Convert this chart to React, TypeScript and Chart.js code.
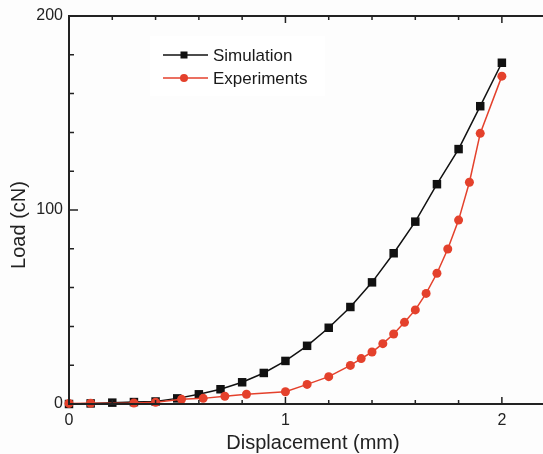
import React, { useEffect, useRef } from "react";
import { Chart, registerables } from "chart.js";

Chart.register(...registerables);

const simX = [0, 0.1, 0.2, 0.3, 0.4, 0.5, 0.6, 0.7, 0.8, 0.9, 1.0, 1.1, 1.2, 1.3, 1.4, 1.5, 1.6, 1.7, 1.8, 1.9, 2.0];
const simY = [0, 0.3, 0.7, 1.0, 1.3, 2.9, 5.0, 7.6, 11.2, 16.0, 22.2, 30.0, 39.3, 50.0, 62.7, 77.7, 94.0, 113.3, 131.4, 153.5, 175.9];

const expX = [0, 0.1, 0.3, 0.4, 0.52, 0.62, 0.72, 0.82, 1.0, 1.1, 1.2, 1.3, 1.35, 1.4, 1.45, 1.5, 1.55, 1.6, 1.65, 1.7, 1.75, 1.8, 1.85, 1.9, 2.0];
const expY = [0.3, 0.4, 0.5, 0.9, 2.4, 2.9, 4.0, 5.0, 6.3, 10.1, 14.1, 19.9, 23.4, 26.8, 31.1, 36.1, 42.1, 48.5, 57.0, 67.4, 79.9, 94.8, 114.3, 139.5, 169.0];

const xTicks = [0, 0.2, 0.4, 0.6, 0.8, 1.0, 1.2, 1.4, 1.6, 1.8, 2.0];
const xLabels = [0, 1, 2];
const yTicks = [0, 20, 40, 60, 80, 100, 120, 140, 160, 180, 200];
const yLabels = [0, 100, 200];

const seriesNames = ["Simulation", "Experiments"];
const xTitle = "Displacement (mm)";
const yTitle = "Load (cN)";
const BLACK = "#111111";
const RED = "#e4412c";
const AXIS = "#222222";
const FONT = "'Liberation Sans', Arial, sans-serif";

const framePlugin = {
  id: "frame",
  afterDatasetsDraw(chart: any) {
    const { ctx, chartArea, scales } = chart;
    const xs = scales.x;
    const ys = scales.y;
    ctx.save();
    ctx.strokeStyle = AXIS;
    ctx.lineWidth = 2;
    ctx.beginPath();
    ctx.moveTo(chartArea.left, chartArea.top);
    ctx.lineTo(chartArea.right, chartArea.top);
    ctx.moveTo(chartArea.left, chartArea.top - 1);
    ctx.lineTo(chartArea.left, chartArea.bottom);
    ctx.lineTo(chartArea.right, chartArea.bottom);
    ctx.stroke();
    ctx.lineWidth = 1.5;
    ctx.beginPath();
    xTicks.forEach((v) => {
      const px = xs.getPixelForValue(v);
      const major = xLabels.some((l) => Math.abs(l - v) < 1e-6);
      const len = major ? 7 : 4;
      ctx.moveTo(px, chartArea.bottom);
      ctx.lineTo(px, chartArea.bottom - len);
      ctx.moveTo(px, chartArea.top);
      ctx.lineTo(px, chartArea.top + len);
    });
    yTicks.forEach((v) => {
      const py = ys.getPixelForValue(v);
      const major = yLabels.some((l) => Math.abs(l - v) < 1e-6);
      const len = major ? 9 : 5;
      ctx.moveTo(chartArea.left - (major ? 1 : 0), py);
      ctx.lineTo(chartArea.left + len, py);
    });
    ctx.stroke();

    ctx.fillStyle = "#222";
    ctx.font = `16px ${FONT}`;
    ctx.textAlign = "center";
    ctx.textBaseline = "top";
    xLabels.forEach((v) => {
      ctx.fillText(String(v), xs.getPixelForValue(v), chartArea.bottom + 9);
    });
    ctx.textAlign = "right";
    ctx.textBaseline = "middle";
    yLabels.forEach((v) => {
      ctx.fillText(String(v), chartArea.left - 6, ys.getPixelForValue(v));
    });

    // titles
    ctx.font = `20px ${FONT}`;
    ctx.textAlign = "center";
    ctx.textBaseline = "middle";
    ctx.fillText(xTitle, 313, 443);
    ctx.save();
    ctx.translate(19, 225);
    ctx.rotate(-Math.PI / 2);
    ctx.fillText(yTitle, 0, 0);
    ctx.restore();

    // legend
    const ly = [55, 78];
    const colors = [BLACK, RED];
    ctx.fillStyle = "#ffffff";
    ctx.fillRect(150, 36, 175, 60);
    seriesNames.forEach((name, i) => {
      ctx.strokeStyle = colors[i];
      ctx.lineWidth = 1.5;
      ctx.beginPath();
      ctx.moveTo(163, ly[i]);
      ctx.lineTo(208, ly[i]);
      ctx.stroke();
      ctx.fillStyle = colors[i];
      if (i === 0) {
        ctx.fillRect(184 - 3.5, ly[i] - 3.5, 7, 7);
      } else {
        ctx.beginPath();
        ctx.arc(184, ly[i], 4, 0, Math.PI * 2);
        ctx.fill();
      }
      ctx.fillStyle = "#1a1a1a";
      ctx.font = `17px ${FONT}`;
      ctx.textAlign = "left";
      ctx.textBaseline = "middle";
      ctx.fillText(name, 213, ly[i] + 1);
    });
    ctx.restore();
  },
};

const bgPlugin = {
  id: "bg",
  beforeDraw(chart: any) {
    const { ctx, width, height } = chart;
    ctx.save();
    ctx.fillStyle = "#fdfdfd";
    ctx.fillRect(0, 0, width, height);
    ctx.restore();
  },
};

export default function App() {
  const ref = useRef<HTMLCanvasElement | null>(null);
  useEffect(() => {
    if (!ref.current) return;
    const chart = new Chart(ref.current, {
      type: "scatter",
      data: {
        datasets: [
          {
            label: seriesNames[0],
            data: simX.map((x, i) => ({ x, y: simY[i] })),
            showLine: true,
            borderColor: BLACK,
            backgroundColor: BLACK,
            borderWidth: 1.5,
            pointStyle: "rect",
            pointRadius: 6,
            pointBorderWidth: 0,
            order: 2,
          },
          {
            label: seriesNames[1],
            data: expX.map((x, i) => ({ x, y: expY[i] })),
            showLine: true,
            borderColor: RED,
            backgroundColor: RED,
            borderWidth: 1.5,
            pointStyle: "circle",
            pointRadius: 4.5,
            pointBorderWidth: 0,
            order: 1,
          },
        ],
      },
      options: {
        animation: false,
        responsive: false,
        clip: false as any,
        layout: { autoPadding: false, padding: { left: 0, right: 0, top: 16, bottom: 0 } },
        plugins: { legend: { display: false }, tooltip: { enabled: false } },
        scales: {
          x: {
            type: "linear",
            min: 0,
            max: 2.19,
            grid: { display: false },
            border: { display: false },
            ticks: { display: false },
            afterBuildTicks: (s: any) => {
              s.ticks = xTicks.map((v) => ({ value: v }));
            },
            afterFit: (s: any) => {
              s.height = 50;
            },
          },
          y: {
            type: "linear",
            min: 0,
            max: 200,
            grid: { display: false },
            border: { display: false },
            ticks: { display: false },
            afterBuildTicks: (s: any) => {
              s.ticks = yTicks.map((v) => ({ value: v }));
            },
            afterFit: (s: any) => {
              s.width = 69;
            },
          },
        },
      },
      plugins: [bgPlugin, framePlugin],
    });
    return () => chart.destroy();
  }, []);
  return (
    <div style={{ position: "fixed", left: 0, top: 0, width: 543, height: 454, background: "#fdfdfd" }}>
      <canvas ref={ref} width={543} height={454} style={{ display: "block", width: 543, height: 454 }} />
    </div>
  );
}
